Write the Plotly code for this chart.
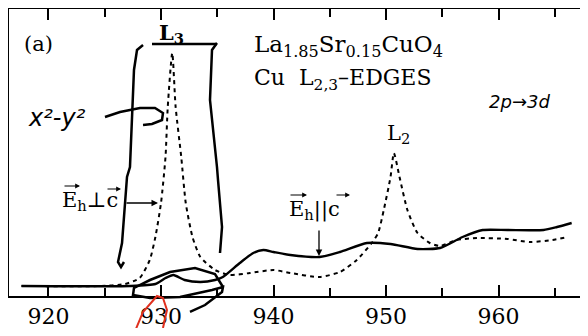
import plotly.graph_objects as go

# Dashed curve: E_h perpendicular to c
perp_energy = [917.6, 924.6, 926.8, 928.1, 929.0, 929.5, 930.0, 930.4, 930.6, 931.0, 931.3, 931.8, 932.2,
               932.8, 933.5, 934.8, 936.1, 937.9, 940.0, 941.5, 944.1, 945.9, 947.4, 948.8, 949.3,
               949.8, 950.4, 950.7, 951.2, 951.9, 952.8, 953.9, 954.8, 956.3, 958.1, 960.8, 962.8, 964.8, 966.2]
perp_value = [10, 10, 12, 18, 36, 59, 93, 139, 189, 243, 189, 139, 93,
              59, 39, 26, 21, 23, 26, 23, 19, 24, 36, 54, 63,
              86, 119, 143, 119, 86, 63, 53, 50, 56, 58, 57, 54, 56, 59]

# Solid curve: E_h parallel to c
par_energy = [917.6, 927.2, 929.5, 930.4, 931.1, 932.1, 933.5, 934.8, 935.5, 937.0, 938.2, 939.1, 940.0,
              941.5, 944.1, 945.9, 948.3, 950.4, 952.8, 954.8, 956.8, 958.6, 960.8, 964.0, 965.2, 966.5]
par_value = [10, 10, 12, 18, 21, 16, 14, 16, 19, 33, 43, 46, 44,
             41, 39, 44, 53, 52, 47, 48, 59, 66, 66, 66, 69, 73]

x_ticks = [920, 930, 940, 950, 960]
x_tick_labels = ["920", "930", "940", "950", "960"]

FONT = "DejaVu Serif"
# the page is shown with an 8px body margin, so the figure is made smaller to fit without scrolling
W, H = 580, 320
L, R, T, B = 1, 7, 1, 32
X0, X1, Y0, Y1 = 9, 581, 9, 296   # plot box in reference-picture pixels

fig = go.Figure()
fig.add_trace(go.Scatter(x=perp_energy, y=perp_value, mode="lines",
                         line=dict(color="black", width=2, dash="4px,4px", shape="spline", smoothing=0.6),
                         showlegend=False))
fig.add_trace(go.Scatter(x=par_energy, y=par_value, mode="lines",
                         line=dict(color="black", width=2.4, shape="spline", smoothing=0.6),
                         showlegend=False))


def px(x, y):
    return (x - X0) / (X1 - X0), (Y1 - y) / (Y1 - Y0)


def path(points):
    s = ""
    for i, (x, y) in enumerate(points):
        a, b = px(x, y)
        s += ("M" if i == 0 else "L") + f"{a:.4f},{b:.4f} "
    return s


def add_path(points, color="black", width=2.5):
    fig.add_shape(type="path", xref="paper", yref="paper", path=path(points),
                  line=dict(color=color, width=width))


# handwritten marks
add_path([(143, 45), (137, 50), (134, 70), (130, 167), (127, 177), (122, 243), (118, 262), (121, 267), (124, 262)])
add_path([(152, 44), (217, 44)])
add_path([(217, 43), (212, 50), (210, 100), (217, 167), (218, 180), (222, 227), (220, 253)])
add_path([(105, 117), (120, 112), (140, 108), (155, 108), (163, 113), (162, 120), (152, 124), (143, 125)])
add_path([(223, 287), (215, 274), (195, 268), (170, 272), (150, 280), (134, 288), (133, 295), (150, 298),
          (180, 297), (212, 290), (223, 287), (222, 292), (205, 305), (190, 312)])
add_path([(133, 336), (143, 312), (157, 296), (163, 298), (167, 310), (163, 328)], color="#e0301e", width=2)

# right frame edge drawn explicitly
fig.add_shape(type="line", xref="paper", yref="paper", x0=1, x1=1, y0=0, y1=1,
              line=dict(color="black", width=2))

ann = []


def text(x, y, s, size=18, family=FONT, anchor="left", color="black"):
    a, b = px(x, y)
    ann.append(dict(x=a, y=b, xref="paper", yref="paper", text=s, showarrow=False,
                    xanchor=anchor, yanchor="middle", font=dict(family=family, size=size, color=color)))


def arrow(x, y, dx, dy, width=1.3, head=2, size=1.0):
    a, b = px(x, y)
    ann.append(dict(x=a, y=b, ax=dx, ay=dy, xref="paper", yref="paper", text="", showarrow=True,
                    arrowhead=head, arrowsize=size, arrowwidth=width, arrowcolor="black"))


text(22, 44, "(a)", 21)
text(171, 34, "<b>L</b><sub><b>3</b></sub>", 21, anchor="center")
text(252, 46, "La<sub>1.85</sub>Sr<sub>0.15</sub>CuO<sub>4</sub>", 23)
text(252, 80, "Cu  L<sub>2,3</sub>–EDGES", 22)
text(398, 134, "L<sub>2</sub>", 21, anchor="center")
text(60, 201, "E<sub>h</sub>⊥c", 21)
text(287, 210, "E<sub>h</sub>||c", 21)
text(26, 118, "<i>x²-y²</i>", 24, family="DejaVu Sans")
text(487, 101, "<i>2p→3d</i>", 18, family="DejaVu Sans")

# vector arrows above letters
arrow(80, 186, -17, 0, width=1.2, head=2, size=0.8)
arrow(121, 189, -15, 0, width=1.2, head=2, size=0.8)
arrow(307, 195, -18, 0, width=1.2, head=2, size=0.8)
arrow(350, 195, -15, 0, width=1.2, head=2, size=0.8)

# pointer arrows
arrow(158, 203, -33, 0)
arrow(319, 256, 0, -27)

fig.update_layout(
    width=W, height=H, margin=dict(l=L, r=R, t=T, b=B, autoexpand=False),
    paper_bgcolor="white", plot_bgcolor="white",
    annotations=ann,
    xaxis=dict(range=[916.49, 967.33], tickvals=x_ticks, ticktext=x_tick_labels, ticks="inside", ticklen=11,
               tickwidth=1.5, tickcolor="black", showline=True, linecolor="black", linewidth=2,
               mirror="allticks", showgrid=False, zeroline=False, automargin=False,
               minor=dict(dtick=5, tick0=915, ticks="inside", ticklen=8, tickwidth=1.5, tickcolor="black"),
               tickfont=dict(family=FONT, size=22, color="black")),
    yaxis=dict(range=[0, 287], showticklabels=False, ticks="", showline=True, linecolor="black", linewidth=2,
               mirror=True, showgrid=False, zeroline=False, automargin=False),
)

fig.write_html("out.html")
